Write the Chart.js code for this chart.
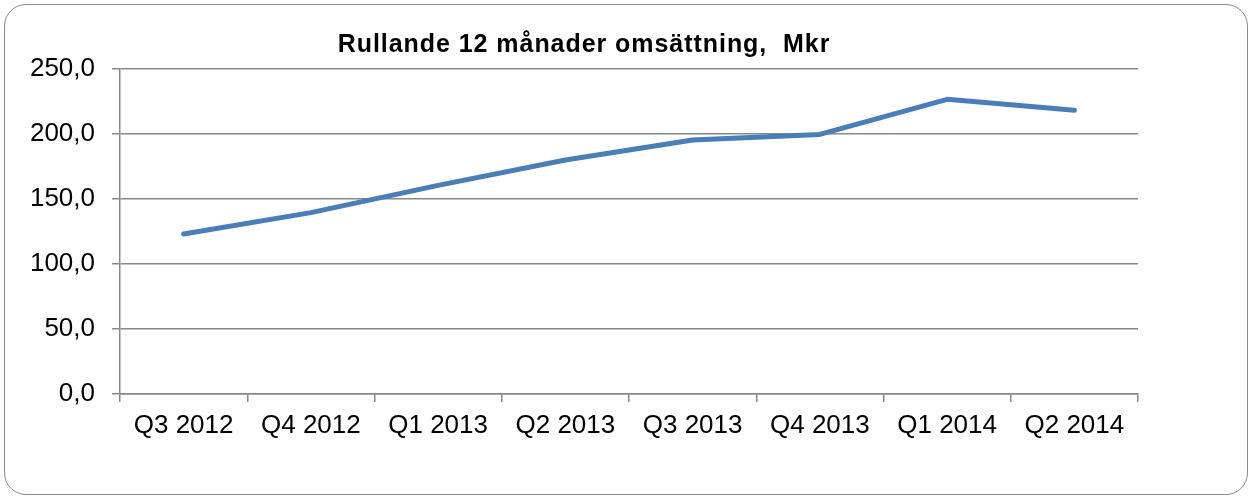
<!DOCTYPE html>
<html>
<head>
<meta charset="utf-8">
<script src="https://cdn.jsdelivr.net/npm/chart.js@4/dist/chart.umd.min.js"></script>
<style>
  html, body { margin: 0; padding: 0; background: #fff; }
  #wrap { position: relative; width: 1251px; height: 499px; }
  #frame {
    position: absolute; left: 4px; top: 4px; width: 1244px; height: 491px;
    border: 1.5px solid #8a8a8a; border-radius: 22px; box-sizing: border-box;
  }
  canvas { position: absolute; left: 0; top: 0; }
</style>
</head>
<body>
<div id="wrap">
  <div id="frame"></div>
  <canvas id="chart" width="1251" height="499"></canvas>
</div>
<script>
const categories = ["Q3 2012", "Q4 2012", "Q1 2013", "Q2 2013", "Q3 2013", "Q4 2013", "Q1 2014", "Q2 2014"];
const omsattning = [123.1, 139.5, 160.5, 180.0, 195.4, 199.7, 226.7, 218.2];
const yTicks = [0, 50, 100, 150, 200, 250];
const chartTitle = "Rullande 12 månader omsättning,  Mkr";

const gridColor = "#888888";
const fontFamily = "'Liberation Sans', Arial, sans-serif";

// titeln ligger lite till vänster om mitten, som i originalet
const titlePlugin = {
  id: "titleText",
  afterDraw(chart) {
    const ctx = chart.ctx;
    const area = chart.chartArea;
    ctx.save();
    ctx.font = "bold 25px " + fontFamily;
    ctx.letterSpacing = "0.95px";
    ctx.fillStyle = "#000";
    ctx.textAlign = "center";
    ctx.textBaseline = "middle";
    ctx.fillText(chartTitle, (area.left + area.right) / 2 - 45, area.top - 24);
    ctx.restore();
  }
};

new Chart(document.getElementById("chart"), {
  type: "line",
  data: {
    labels: categories,
    datasets: [{
      data: omsattning,
      borderColor: "#4A7EBB",
      borderWidth: 5,
      borderCapStyle: "round",
      borderJoinStyle: "round",
      pointRadius: 0,
      tension: 0,
      fill: false
    }]
  },
  options: {
    responsive: false,
    animation: false,
    layout: { padding: { left: 0, right: 113, top: 69, bottom: 0 } },
    plugins: {
      legend: { display: false },
      title: { display: false },
      tooltip: { enabled: false }
    },
    scales: {
      x: {
        offset: true,
        afterFit(scale) { scale.height = 105; },
        grid: {
          offset: true,
          drawOnChartArea: false,
          color: gridColor,
          lineWidth: 1.5,
          tickLength: 8
        },
        border: { color: gridColor, width: 1.5 },
        ticks: {
          color: "#000",
          font: { family: fontFamily, size: 26 },
          padding: 8,
          maxRotation: 0
        }
      },
      y: {
        min: 0,
        max: 250,
        afterFit(scale) { scale.width = 120; },
        afterBuildTicks(scale) { scale.ticks = yTicks.map(v => ({ value: v })); },
        grid: { color: gridColor, lineWidth: 1.5, tickLength: 8 },
        border: { color: gridColor, width: 1.5 },
        ticks: {
          color: "#000",
          font: { family: fontFamily, size: 26 },
          padding: 17,
          callback: v => v.toFixed(1).replace(".", ",")
        }
      }
    }
  },
  plugins: [titlePlugin]
});
</script>
</body>
</html>
